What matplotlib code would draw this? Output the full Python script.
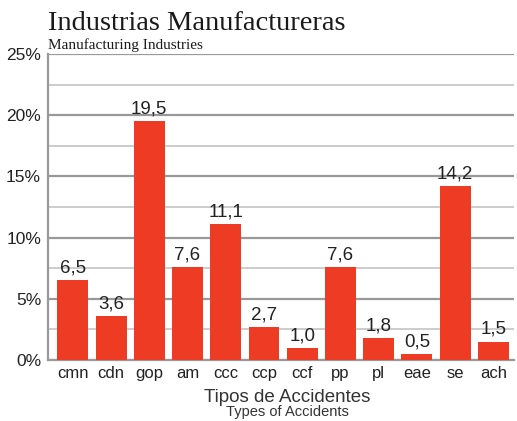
import matplotlib.pyplot as plt
from matplotlib.ticker import MultipleLocator

# accident types and share of accidents (%)
CATEGORIES = ['cmn', 'cdn', 'gop', 'am', 'ccc', 'ccp', 'ccf', 'pp', 'pl', 'eae', 'se', 'ach']
VALUES = [6.5, 3.6, 19.5, 7.6, 11.1, 2.7, 1.0, 7.6, 1.8, 0.5, 14.2, 1.5]
Y_TICKS = [0, 5, 10, 15, 20, 25]

BAR_COLOR = '#ee3b24'
SANS = 'Liberation Sans'
SERIF = 'Liberation Serif'

fig = plt.figure(figsize=(5.17, 4.21), dpi=100)
ax = fig.add_axes([48 / 517, 1 - 360 / 421, 466 / 517, 306 / 421])

xs = range(len(CATEGORIES))
ax.bar(xs, VALUES, width=0.81, color=BAR_COLOR, zorder=3)
for x, v in zip(xs, VALUES):
    ax.text(x, v + 0.3, '{:.1f}'.format(v).replace('.', ','), ha='center', va='bottom',
            fontsize=13.5, family=SANS, color='#222222', zorder=4)

ax.set_xlim(-0.65, 11.54)
ax.set_ylim(0, 25)
ax.set_yticks(Y_TICKS)
ax.set_yticklabels(['{}%'.format(t) for t in Y_TICKS])
ax.yaxis.set_minor_locator(MultipleLocator(2.5))
ax.set_xticks(list(xs))
ax.set_xticklabels(CATEGORIES)

ax.grid(axis='y', which='major', color='#999999', linewidth=1.6, zorder=0)
ax.grid(axis='y', which='minor', color='#c4c4c4', linewidth=1.2, zorder=0)
ax.tick_params(axis='both', which='both', length=0)
ax.tick_params(axis='y', pad=5)
ax.tick_params(axis='x', pad=4)
for lab in ax.get_yticklabels():
    lab.set_fontsize(12.5)
    lab.set_family(SANS)
    lab.set_color('#222222')
for lab in ax.get_xticklabels():
    lab.set_fontsize(12)
    lab.set_family(SANS)
    lab.set_color('#222222')

for side in ['top', 'right']:
    ax.spines[side].set_visible(False)
for side in ['left', 'bottom']:
    ax.spines[side].set_color('#999999')
    ax.spines[side].set_linewidth(1.6)

fig.text(48 / 517, 1 - 30.5 / 421, 'Industrias Manufactureras', family=SERIF,
         fontsize=20.5, color='#1a1a1a', va='baseline')
fig.text(48 / 517, 1 - 48.5 / 421, 'Manufacturing Industries', family=SERIF,
         fontsize=11, color='#1a1a1a', va='baseline')
fig.text(287 / 517, 1 - 402 / 421, 'Tipos de Accidentes', family=SANS,
         fontsize=13.5, color='#333333', ha='center', va='baseline')
fig.text(287 / 517, 1 - 416 / 421, 'Types of Accidents', family=SANS,
         fontsize=10.5, color='#333333', ha='center', va='baseline')

fig.savefig('out.png', dpi=100)
